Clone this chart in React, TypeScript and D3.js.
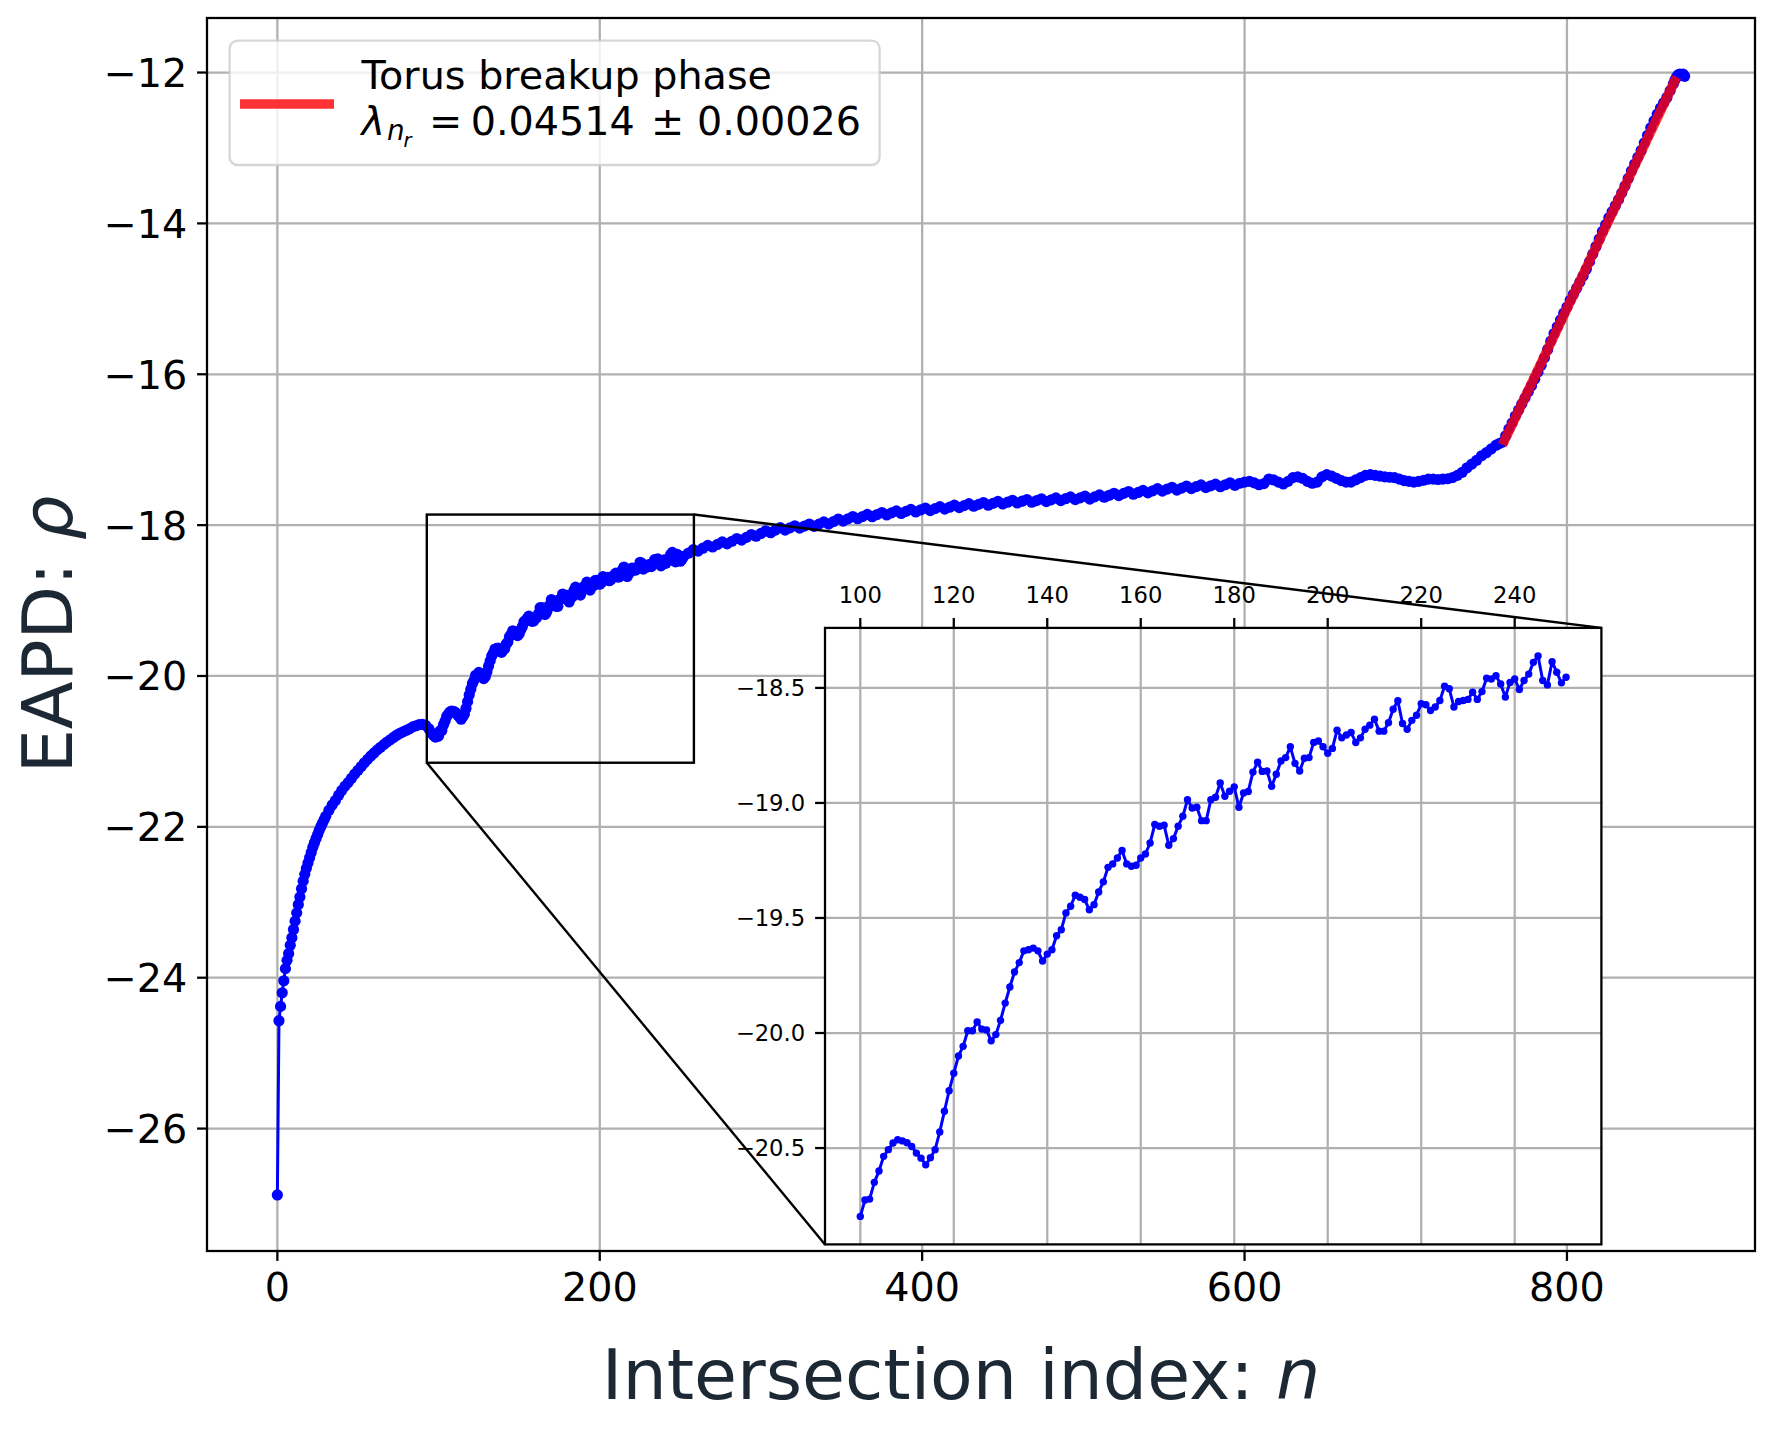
import React from 'react';
import * as d3 from 'd3';

// ---------- data ----------
const earlyPhase: [number, number][] = [
  [0, -26.88], [1, -24.57], [2, -24.38], [3, -24.2], [4, -24.04], [5, -23.88], [6, -23.77], [7, -23.68],
  [8, -23.57], [9, -23.47], [10, -23.36], [11, -23.25], [12, -23.14], [13, -23.03], [14, -22.93], [15, -22.82],
  [16, -22.72], [17, -22.63], [18, -22.55], [19, -22.48], [20, -22.41], [21, -22.34], [22, -22.27], [23, -22.21],
  [24, -22.155], [25, -22.1], [26, -22.045], [27, -21.995], [28, -21.95], [29, -21.905], [30, -21.86],
  [32, -21.78], [34, -21.71], [36, -21.65], [38, -21.58], [40, -21.515], [42, -21.46], [44, -21.41],
  [46, -21.355], [48, -21.3], [50, -21.25], [52, -21.2], [54, -21.15], [56, -21.105], [58, -21.06],
  [60, -21.02], [62, -20.98], [64, -20.945], [66, -20.91], [68, -20.875], [70, -20.845], [72, -20.815],
  [74, -20.785], [76, -20.76], [78, -20.74], [80, -20.72], [82, -20.7], [84, -20.675], [86, -20.66],
  [88, -20.645], [90, -20.64], [92, -20.655], [94, -20.7], [96, -20.76], [97, -20.79], [98, -20.81], [99, -20.8],
];

const insetStart = 100;
const insetValues: number[] = [
  -20.797, -20.726, -20.722, -20.649, -20.6, -20.536, -20.507, -20.478, -20.464, -20.469,
  -20.477, -20.493, -20.522, -20.544, -20.573, -20.542, -20.507, -20.43, -20.34, -20.251,
  -20.175, -20.1, -20.058, -19.99, -19.99, -19.952, -19.983, -19.987, -20.034, -20.007,
  -19.945, -19.87, -19.8, -19.735, -19.694, -19.643, -19.638, -19.631, -19.643, -19.687,
  -19.657, -19.638, -19.577, -19.551, -19.478, -19.449, -19.401, -19.41, -19.42, -19.464,
  -19.442, -19.387, -19.343, -19.28, -19.265, -19.239, -19.207, -19.265, -19.275, -19.271,
  -19.239, -19.222, -19.174, -19.094, -19.101, -19.097, -19.184, -19.155, -19.101, -19.058,
  -18.986, -19.022, -19.019, -19.077, -19.077, -18.986, -18.975, -18.913, -18.971, -18.949,
  -18.93, -19.019, -18.957, -18.95, -18.866, -18.823, -18.863, -18.861, -18.928, -18.875,
  -18.818, -18.803, -18.756, -18.828, -18.861, -18.806, -18.803, -18.737, -18.731, -18.756,
  -18.784, -18.763, -18.684, -18.717, -18.705, -18.694, -18.737, -18.717, -18.68, -18.662,
  -18.636, -18.688, -18.688, -18.651, -18.593, -18.556, -18.655, -18.68, -18.641, -18.619,
  -18.569, -18.573, -18.598, -18.583, -18.555, -18.493, -18.504, -18.583, -18.559, -18.555,
  -18.55, -18.519, -18.55, -18.516, -18.458, -18.461, -18.447, -18.483, -18.54, -18.476,
  -18.461, -18.507, -18.468, -18.44, -18.389, -18.361, -18.468, -18.487, -18.386, -18.432,
  -18.478, -18.454,
];

const plateauPhase: [number, number][] = [
  [252, -18.415], [255, -18.372], [258, -18.325], [261, -18.344], [264, -18.306], [267, -18.268],
  [270, -18.29], [273, -18.256], [276, -18.223], [279, -18.249], [282, -18.214], [285, -18.177],
  [288, -18.199], [291, -18.162], [294, -18.125], [297, -18.147], [300, -18.11], [303, -18.075],
  [306, -18.1], [309, -18.065], [312, -18.034], [315, -18.065], [318, -18.036], [321, -18.008],
  [324, -18.04], [327, -18.012], [330, -17.985], [333, -18.016], [336, -17.987], [339, -17.958],
  [342, -17.986], [345, -17.953], [348, -17.919], [351, -17.947], [354, -17.916], [357, -17.886],
  [360, -17.915], [363, -17.886], [366, -17.857], [369, -17.888], [372, -17.86], [375, -17.833],
  [378, -17.865], [381, -17.838], [384, -17.811], [387, -17.845], [390, -17.818], [393, -17.792],
  [396, -17.825], [399, -17.799], [402, -17.773], [405, -17.807], [408, -17.781], [411, -17.755],
  [414, -17.788], [417, -17.762], [420, -17.735], [423, -17.768], [426, -17.742], [429, -17.715],
  [432, -17.749], [435, -17.725], [438, -17.701], [441, -17.736], [444, -17.711], [447, -17.685],
  [450, -17.72], [453, -17.696], [456, -17.671], [459, -17.707], [462, -17.683], [465, -17.66],
  [468, -17.697], [471, -17.674], [474, -17.651], [477, -17.688], [480, -17.665], [483, -17.64],
  [486, -17.675], [489, -17.65], [492, -17.625], [495, -17.662], [498, -17.639], [501, -17.616],
  [504, -17.655], [507, -17.625], [510, -17.6], [513, -17.63], [516, -17.605], [519, -17.578],
  [522, -17.608], [525, -17.579], [528, -17.554], [531, -17.59], [534, -17.567], [537, -17.54],
  [540, -17.572], [543, -17.545], [546, -17.517], [549, -17.549], [552, -17.522], [555, -17.499],
  [558, -17.535], [561, -17.509], [564, -17.482], [567, -17.515], [570, -17.49], [573, -17.467],
  [576, -17.503], [579, -17.479], [582, -17.456], [585, -17.491], [588, -17.465], [591, -17.439],
  [594, -17.472], [597, -17.445], [600, -17.43], [603, -17.42], [606, -17.44],
  [609, -17.465], [612, -17.45], [615, -17.39], [618, -17.4], [621, -17.43], [624, -17.455], [627, -17.42],
  [630, -17.37], [633, -17.36], [636, -17.38], [639, -17.42], [642, -17.445], [645, -17.43], [648, -17.36],
  [651, -17.33], [654, -17.35], [657, -17.38], [660, -17.41], [663, -17.43], [666, -17.43], [669, -17.4],
  [672, -17.37], [675, -17.34], [678, -17.33], [681, -17.34], [684, -17.35], [687, -17.36], [690, -17.365],
  [693, -17.37], [696, -17.39], [699, -17.41], [702, -17.42], [705, -17.43], [708, -17.42], [711, -17.405],
  [714, -17.39], [717, -17.39], [720, -17.395], [723, -17.39], [726, -17.385], [729, -17.37], [732, -17.34],
];

const breakupPhase: [number, number][] = [
  [735, -17.3], [738, -17.24], [741, -17.19], [744, -17.14], [747, -17.08], [750, -17.04], [753, -16.99],
  [756, -16.94], [758, -16.92], [760, -16.9], [762, -16.815], [764, -16.724], [766, -16.644], [768, -16.554],
  [770, -16.474], [772, -16.393], [774, -16.313], [776, -16.233], [778, -16.152], [780, -16.062], [782, -15.972],
  [784, -15.882], [786, -15.781], [788, -15.671], [790, -15.561], [792, -15.46], [794, -15.37], [796, -15.28],
  [798, -15.19], [800, -15.109], [802, -15.019], [804, -14.939], [806, -14.859], [808, -14.778], [810, -14.698],
  [812, -14.608], [814, -14.507], [816, -14.407], [818, -14.307], [820, -14.207], [822, -14.106], [824, -14.016],
  [826, -13.926], [828, -13.845], [830, -13.765], [832, -13.685], [834, -13.595], [836, -13.504], [838, -13.404],
  [840, -13.304], [842, -13.213], [844, -13.123], [846, -13.033], [848, -12.932], [850, -12.832], [852, -12.732],
  [854, -12.642], [856, -12.551], [858, -12.471], [860, -12.401], [862, -12.33], [864, -12.24], [866, -12.15],
  [867, -12.1], [868, -12.06], [869, -12.03], [870, -12.02], [872, -12.02], [873, -12.05],
];

const fitRange: [number, number] = [760, 868];
const fitSlope = 0.04514;
const fitStartValue = -16.935;

const zoomBoxN: [number, number] = [92.7, 258.4];
const zoomBoxV: [number, number] = [-21.15, -17.86];

const mainXTicks = [0, 200, 400, 600, 800];
const mainYTicks = [-26, -24, -22, -20, -18, -16, -14, -12];
const insetXTicks = [100, 120, 140, 160, 180, 200, 220, 240];
const insetYTicks = [-20.5, -20.0, -19.5, -19.0, -18.5];

const legendTitle = 'Torus breakup phase';
const lambdaValue = '0.04514';
const lambdaError = '0.00026';
const xLabelText = 'Intersection index: ';
const yLabelText = 'EAPD: ';

// ---------- layout ----------
const W = 1777;
const H = 1431;
const ML = 207, MR = 1755, MT = 18, MB = 1251;
const IL = 825, IR = 1601.4, IT = 627.9, IB = 1244.4;
const FONT = 'DejaVu Sans, Verdana, sans-serif';
const TICK_FS = 39.7;
const INSET_FS = 22.7;
const LABEL_FS = 69.8;
const GRID = '#b0b0b0';
const LABEL_COLOR = '#1c2833';
const TICK_LEN = 9.9;
const PAD = 9.9;

function padExtent(ext: [number, number]): [number, number] {
  const span = ext[1] - ext[0];
  return [ext[0] - 0.05 * span, ext[1] + 0.05 * span];
}

const fmtMinus = (v: number, digits = 0) => {
  const s = digits > 0 ? Math.abs(v).toFixed(digits) : String(Math.abs(v));
  return v < 0 ? '\u2212' + s : s;
};

export default function App() {
  const insetPoints: [number, number][] = insetValues.map((v, i) => [insetStart + i, v]);
  const mainPoints: [number, number][] = [...earlyPhase, ...insetPoints, ...plateauPhase, ...breakupPhase];

  const x = d3.scaleLinear()
    .domain(padExtent(d3.extent(mainPoints, (d) => d[0]) as [number, number]))
    .range([ML, MR]);
  const y = d3.scaleLinear()
    .domain(padExtent(d3.extent(mainPoints, (d) => d[1]) as [number, number]))
    .range([MB, MT]);

  const xi = d3.scaleLinear()
    .domain(padExtent(d3.extent(insetPoints, (d) => d[0]) as [number, number]))
    .range([IL, IR]);
  const yi = d3.scaleLinear()
    .domain(padExtent(d3.extent(insetPoints, (d) => d[1]) as [number, number]))
    .range([IB, IT]);

  const mainLine = d3.line<[number, number]>().x((d) => x(d[0])).y((d) => y(d[1]))(mainPoints) || '';
  const insetLine = d3.line<[number, number]>().x((d) => xi(d[0])).y((d) => yi(d[1]))(insetPoints) || '';

  const fitPts: [number, number][] = fitRange.map((n) => [n, fitStartValue + fitSlope * (n - fitRange[0])]);
  const fitPath = d3.line<[number, number]>().x((d) => x(d[0])).y((d) => y(d[1]))(fitPts) || '';

  const bx0 = x(zoomBoxN[0]);
  const bx1 = x(zoomBoxN[1]);
  const by0 = y(zoomBoxV[1]);
  const by1 = y(zoomBoxV[0]);

  return (
    <svg
      width={W}
      height={H}
      viewBox={`0 0 ${W} ${H}`}
      style={{ position: 'absolute', left: 0, top: 0, display: 'block', background: '#fff' }}
      fontFamily={FONT}
    >
      <rect x={0} y={0} width={W} height={H} fill="#fff" />

      {/* main grid */}
      {mainXTicks.map((t) => (
        <line key={'gx' + t} x1={x(t)} x2={x(t)} y1={MT} y2={MB} stroke={GRID} strokeWidth={2.27} />
      ))}
      {mainYTicks.map((t) => (
        <line key={'gy' + t} x1={ML} x2={MR} y1={y(t)} y2={y(t)} stroke={GRID} strokeWidth={2.27} />
      ))}

      {/* main data */}
      <path d={mainLine} fill="none" stroke="#0000ff" strokeWidth={3} strokeLinejoin="round" />
      {mainPoints.map((d, i) => (
        <circle key={'m' + i} cx={x(d[0])} cy={y(d[1])} r={5.6} fill="#0000ff" />
      ))}

      {/* fit line */}
      <path d={fitPath} fill="none" stroke="#ff0000" strokeOpacity={0.8} strokeWidth={9.7} strokeLinecap="butt" />

      {/* main spines */}
      <rect x={ML} y={MT} width={MR - ML} height={MB - MT} fill="none" stroke="#000" strokeWidth={2.27} />

      {/* main ticks */}
      {mainXTicks.map((t) => (
        <g key={'tx' + t}>
          <line x1={x(t)} x2={x(t)} y1={MB} y2={MB + TICK_LEN} stroke="#000" strokeWidth={2.27} />
          <text x={x(t)} y={MB + TICK_LEN + PAD + 0.76 * TICK_FS} fontSize={TICK_FS} textAnchor="middle" fill="#000">
            {fmtMinus(t)}
          </text>
        </g>
      ))}
      {mainYTicks.map((t) => (
        <g key={'ty' + t}>
          <line x1={ML - TICK_LEN} x2={ML} y1={y(t)} y2={y(t)} stroke="#000" strokeWidth={2.27} />
          <text x={ML - TICK_LEN - PAD} y={y(t) + 0.3645 * TICK_FS} fontSize={TICK_FS} textAnchor="end" fill="#000">
            {fmtMinus(t)}
          </text>
        </g>
      ))}

      {/* axis labels */}
      <text x={961} y={1398.5} fontSize={LABEL_FS} textAnchor="middle" fill={LABEL_COLOR}>
        {xLabelText}
        <tspan fontStyle="italic">n</tspan>
      </text>
      <text
        x={71.7}
        y={634.5}
        fontSize={LABEL_FS}
        textAnchor="middle"
        fill={LABEL_COLOR}
        transform="rotate(-90 71.7 634.5)"
      >
        {yLabelText}
        <tspan fontStyle="italic">ρ</tspan>
      </text>

      {/* zoom box and connectors */}
      <rect x={bx0} y={by0} width={bx1 - bx0} height={by1 - by0} fill="none" stroke="#000" strokeWidth={2.4} />
      <line x1={bx1} y1={by0} x2={IR} y2={IT} stroke="#000" strokeWidth={2.4} />
      <line x1={bx0} y1={by1} x2={IL} y2={IB} stroke="#000" strokeWidth={2.4} />

      {/* inset */}
      <rect x={IL} y={IT} width={IR - IL} height={IB - IT} fill="#fff" />
      {insetXTicks.map((t) => (
        <line key={'igx' + t} x1={xi(t)} x2={xi(t)} y1={IT} y2={IB} stroke={GRID} strokeWidth={2.27} />
      ))}
      {insetYTicks.map((t) => (
        <line key={'igy' + t} x1={IL} x2={IR} y1={yi(t)} y2={yi(t)} stroke={GRID} strokeWidth={2.27} />
      ))}
      <path d={insetLine} fill="none" stroke="#0000ff" strokeWidth={3} strokeLinejoin="round" />
      {insetPoints.map((d, i) => (
        <circle key={'i' + i} cx={xi(d[0])} cy={yi(d[1])} r={3.7} fill="#0000ff" />
      ))}
      <rect x={IL} y={IT} width={IR - IL} height={IB - IT} fill="none" stroke="#000" strokeWidth={2.27} />
      {insetXTicks.map((t) => (
        <g key={'itx' + t}>
          <line x1={xi(t)} x2={xi(t)} y1={IT - TICK_LEN} y2={IT} stroke="#000" strokeWidth={2.27} />
          <text x={xi(t)} y={IT - TICK_LEN - PAD - 5.2} fontSize={INSET_FS} textAnchor="middle" fill="#000">
            {fmtMinus(t)}
          </text>
        </g>
      ))}
      {insetYTicks.map((t) => (
        <g key={'ity' + t}>
          <line x1={IL - TICK_LEN} x2={IL} y1={yi(t)} y2={yi(t)} stroke="#000" strokeWidth={2.27} />
          <text x={IL - TICK_LEN - PAD} y={yi(t) + 0.3645 * INSET_FS} fontSize={INSET_FS} textAnchor="end" fill="#000">
            {fmtMinus(t, 1)}
          </text>
        </g>
      ))}

      {/* legend */}
      <rect
        x={229.6}
        y={40.7}
        width={650}
        height={124.3}
        rx={8}
        ry={8}
        fill="#fff"
        fillOpacity={0.8}
        stroke="#cccccc"
        strokeOpacity={0.8}
        strokeWidth={2.27}
      />
      <line x1={240} x2={334} y1={104} y2={104} stroke="#ff0000" strokeOpacity={0.8} strokeWidth={9.7} />
      <text x={361.6} y={89.3} fontSize={TICK_FS} fill="#000">
        {legendTitle}
      </text>
      <text y={135} fontSize={TICK_FS} fill="#000">
        <tspan x={361.6} fontStyle="italic">λ</tspan>
        <tspan x={387} y={140} fontSize={27.8} fontStyle="italic">n</tspan>
        <tspan x={403.5} y={146.5} fontSize={19.5} fontStyle="italic">r</tspan>
        <tspan x={429} y={135}>=</tspan>
        <tspan x={470.7} y={135}>{lambdaValue}</tspan>
        <tspan x={651} y={135}>±</tspan>
        <tspan x={697} y={135}>{lambdaError}</tspan>
      </text>
    </svg>
  );
}
